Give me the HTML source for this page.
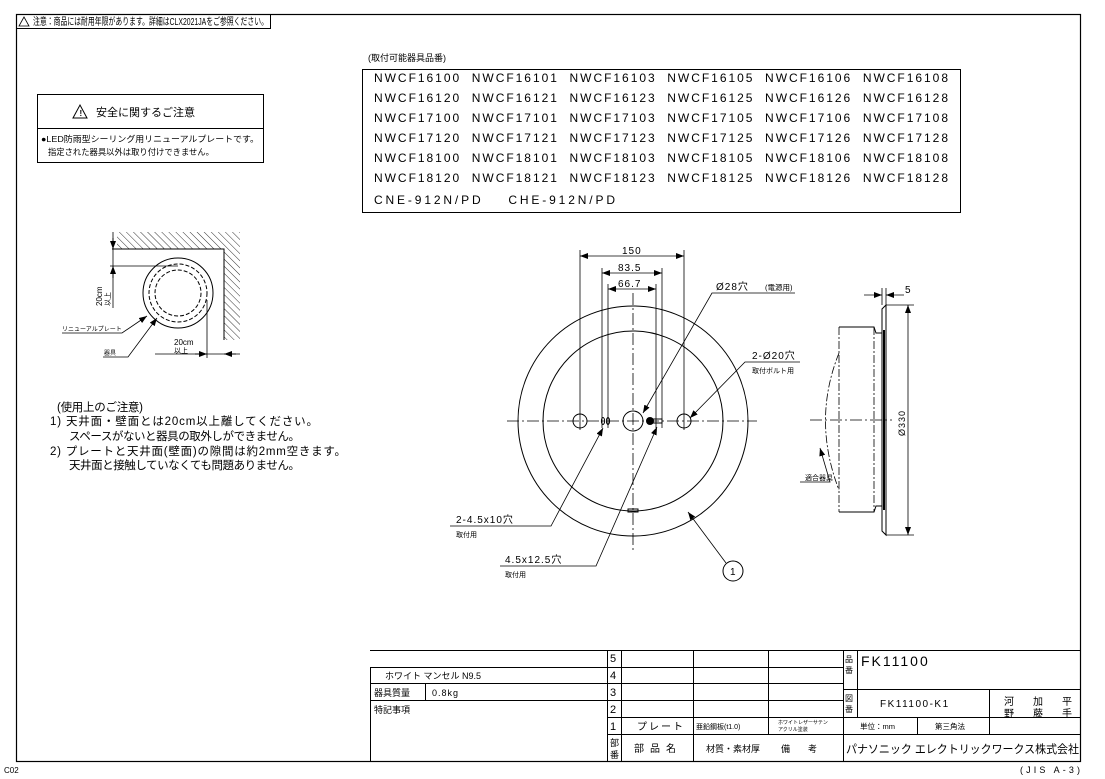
<!DOCTYPE html>
<html><head><meta charset="utf-8"><style>
html,body{margin:0;padding:0;background:#fff;}
svg{display:block;}
text{font-family:"Liberation Sans","Noto Sans CJK JP",sans-serif;fill:#000;}
</style></head><body>
<svg width="1105" height="779" viewBox="0 0 1105 779" xmlns="http://www.w3.org/2000/svg">
<defs>
<pattern id="h" width="5" height="5" patternUnits="userSpaceOnUse" patternTransform="rotate(-45)">
<line x1="0" y1="0" x2="0" y2="5" stroke="#000" stroke-width="0.8"/></pattern>
<marker id="a" markerWidth="8" markerHeight="6" refX="8" refY="3" orient="auto" markerUnits="userSpaceOnUse"><path d="M0,0 L8,3 L0,6z" fill="#000"/></marker>
<marker id="as" markerWidth="8" markerHeight="6" refX="0" refY="3" orient="auto" markerUnits="userSpaceOnUse"><path d="M8,0 L0,3 L8,6z" fill="#000"/></marker>
</defs>
<g stroke="#000" fill="none" stroke-width="1">
<rect x="16.5" y="14.5" width="1064" height="747" stroke-width="1.2"/>
<polyline points="16.5,28.5 270.5,28.5 270.5,14.5"/>
<rect x="37.5" y="94.5" width="226" height="68"/>
<line x1="37" y1="128.5" x2="263" y2="128.5"/>
<path d="M73,118 L80,105 L87,118z"/>
<path d="M19,26 L24,17 L29,26z" stroke-width="0.8"/>
<rect x="362.5" y="69.5" width="598" height="143"/>
</g>
<text x="33" y="25" font-size="10" textLength="235" lengthAdjust="spacingAndGlyphs">注意：商品には耐用年限があります。詳細はCLX2021JAをご参照ください。</text>
<text x="96" y="116" font-size="11">安全に関するご注意</text>
<text x="79.5" y="116" font-size="8" font-weight="bold">!</text>
<text x="41" y="142" font-size="8.5" textLength="218" lengthAdjust="spacingAndGlyphs">●LED防雨型シーリング用リニューアルプレートです。</text>
<text x="48" y="155" font-size="8.5" textLength="166" lengthAdjust="spacingAndGlyphs">指定された器具以外は取り付けできません。</text>
<text x="368" y="61" font-size="9">(取付可能器具品番)</text>
<g font-size="12">
<text x="374" y="82" textLength="574" lengthAdjust="spacing">NWCF16100&#160; NWCF16101&#160; NWCF16103&#160; NWCF16105&#160; NWCF16106&#160; NWCF16108</text>
<text x="374" y="102" textLength="574" lengthAdjust="spacing">NWCF16120&#160; NWCF16121&#160; NWCF16123&#160; NWCF16125&#160; NWCF16126&#160; NWCF16128</text>
<text x="374" y="122" textLength="574" lengthAdjust="spacing">NWCF17100&#160; NWCF17101&#160; NWCF17103&#160; NWCF17105&#160; NWCF17106&#160; NWCF17108</text>
<text x="374" y="142" textLength="574" lengthAdjust="spacing">NWCF17120&#160; NWCF17121&#160; NWCF17123&#160; NWCF17125&#160; NWCF17126&#160; NWCF17128</text>
<text x="374" y="162" textLength="574" lengthAdjust="spacing">NWCF18100&#160; NWCF18101&#160; NWCF18103&#160; NWCF18105&#160; NWCF18106&#160; NWCF18108</text>
<text x="374" y="182" textLength="574" lengthAdjust="spacing">NWCF18120&#160; NWCF18121&#160; NWCF18123&#160; NWCF18125&#160; NWCF18126&#160; NWCF18128</text>
<text x="374" y="204" textLength="241" lengthAdjust="spacing">CNE-912N/PD&#160;&#160;&#160; CHE-912N/PD</text>
</g>

<rect x="117" y="232" width="123" height="17" fill="url(#h)"/>
<rect x="224" y="249" width="16" height="91" fill="url(#h)"/>
<g stroke="#000" fill="none" stroke-width="1">
<polyline points="112,249 224,249 224,340"/>
<circle cx="178" cy="293" r="35"/>
<circle cx="178" cy="293" r="29" stroke-dasharray="4,2"/>
<circle cx="178" cy="293" r="23" stroke-dasharray="4,2"/>
<line x1="113" y1="232" x2="113" y2="308" stroke-width="0.8"/>
<line x1="110" y1="266" x2="178" y2="266" stroke-width="0.8"/>
<line x1="113" y1="238" x2="113" y2="249" marker-end="url(#a)"/>
<line x1="113" y1="278" x2="113" y2="266" marker-end="url(#a)"/>
<line x1="207" y1="300" x2="207" y2="358" stroke-width="0.8"/>
<line x1="155" y1="354" x2="240" y2="354" stroke-width="0.8"/>
<line x1="195" y1="354" x2="207" y2="354" marker-end="url(#a)"/>
<line x1="236" y1="354" x2="224" y2="354" marker-end="url(#a)"/>
<polyline points="62,333 122,333 147,316" marker-end="url(#a)" stroke-width="0.8"/>
<polyline points="103,357 128,357 157,318" marker-end="url(#a)" stroke-width="0.8"/>
</g>
<text transform="translate(102,306) rotate(-90)" font-size="8">20cm</text>
<text transform="translate(110,306) rotate(-90)" font-size="7">以上</text>
<text x="174" y="345" font-size="8">20cm</text>
<text x="174" y="353" font-size="7">以上</text>
<text x="62" y="331" font-size="6">リニューアルプレート</text>
<text x="104" y="355" font-size="6">器具</text>

<g font-size="11.5">
<text x="57" y="411" textLength="86" lengthAdjust="spacing">(使用上のご注意)</text>
<text x="50" y="425" textLength="268" lengthAdjust="spacing">1) 天井面・壁面とは20cm以上離してください。</text>
<text x="69" y="440" textLength="231" lengthAdjust="spacing">スペースがないと器具の取外しができません。</text>
<text x="50" y="455" textLength="296" lengthAdjust="spacing">2) プレートと天井面(壁面)の隙間は約2mm空きます。</text>
<text x="69" y="469" textLength="231" lengthAdjust="spacing">天井面と接触していなくても問題ありません。</text>
</g>

<g stroke="#000" fill="none" stroke-width="1">
<circle cx="633" cy="421" r="115"/>
<circle cx="633" cy="421" r="90"/>
<line x1="507" y1="421" x2="757" y2="421" stroke-dasharray="12,3,2,3" stroke-width="0.8"/>
<line x1="633" y1="293" x2="633" y2="552" stroke-dasharray="12,3,2,3" stroke-width="0.8"/>
<circle cx="580" cy="421" r="7"/>
<circle cx="684" cy="421" r="7"/>
<circle cx="633" cy="421" r="10"/>
<ellipse cx="603" cy="421" rx="1.6" ry="3.5"/>
<ellipse cx="608" cy="421" rx="1.6" ry="3.5"/>
<circle cx="650" cy="421" r="3.5" fill="#000"/>
<rect x="652" y="419" width="10" height="4"/>
<rect x="628" y="509" width="10" height="3"/>
<g stroke-width="0.8">
<line x1="580" y1="250" x2="580" y2="430"/>
<line x1="684" y1="250" x2="684" y2="430"/>
<line x1="602" y1="268" x2="602" y2="428"/>
<line x1="662" y1="268" x2="662" y2="428"/>
<line x1="608" y1="284" x2="608" y2="428"/>
<line x1="656" y1="284" x2="656" y2="428"/>
<line x1="580" y1="256" x2="684" y2="256" marker-start="url(#as)" marker-end="url(#a)"/>
<line x1="602" y1="273" x2="662" y2="273" marker-start="url(#as)" marker-end="url(#a)"/>
<line x1="608" y1="289" x2="656" y2="289" marker-start="url(#as)" marker-end="url(#a)"/>
<polyline points="795,293 712,293 643,413" marker-end="url(#a)"/>
<polyline points="800,362 745,362 690,418" marker-end="url(#a)"/>
<polyline points="450,526 551,526 603,428" marker-end="url(#a)"/>
<polyline points="500,566 596,566 657,427" marker-end="url(#a)"/>
<line x1="726" y1="563" x2="688" y2="512" marker-end="url(#a)"/>
</g>
<circle cx="733" cy="571" r="10"/>
</g>
<g font-size="10" letter-spacing="1">
<text x="622" y="254">150</text>
<text x="618" y="271">83.5</text>
<text x="618" y="287">66.7</text>
<text x="716" y="290">Ø28穴</text>
<text x="752" y="359">2-Ø20穴</text>
<text x="456" y="523">2-4.5x10穴</text>
<text x="505" y="563">4.5x12.5穴</text>
</g>
<text x="765" y="290" font-size="7.5">(電源用)</text>
<text x="752" y="373" font-size="7">取付ボルト用</text>
<text x="456" y="537" font-size="7">取付用</text>
<text x="505" y="577" font-size="7">取付用</text>
<text x="730" y="575" font-size="10">1</text>

<g stroke="#000" fill="none" stroke-width="1">
<path d="M886,305 L882,309 L882,531 L886,535 Z"/>
<line x1="884" y1="330" x2="884" y2="510" stroke-width="2"/>
<polyline points="839,327 874,327 876,333 882,333"/>
<polyline points="839,512 874,512 876,506 882,506"/>
<line x1="839" y1="327" x2="839" y2="512" stroke-dasharray="8,2,2,2" stroke-width="0.8"/>
<line x1="874" y1="327" x2="874" y2="512" stroke-dasharray="8,2,2,2" stroke-width="0.8"/>
<path d="M839,353 Q812,420 839,490" stroke-dasharray="8,2,2,2" stroke-width="0.8"/>
<line x1="810" y1="420" x2="892" y2="420" stroke-dasharray="12,3,2,3" stroke-width="0.8"/>
<g stroke-width="0.8">
<line x1="882" y1="288" x2="882" y2="305"/>
<line x1="886" y1="288" x2="886" y2="305"/>
<line x1="864" y1="295" x2="882" y2="295" marker-end="url(#a)"/>
<line x1="904" y1="295" x2="886" y2="295" marker-end="url(#a)"/>
<line x1="886" y1="305" x2="914" y2="305"/>
<line x1="886" y1="535" x2="914" y2="535"/>
<line x1="908" y1="305" x2="908" y2="535" marker-start="url(#as)" marker-end="url(#a)"/>
<polyline points="800,482 830,482 820,448" marker-end="url(#a)"/>
</g>
</g>
<text x="905" y="293" font-size="10">5</text>
<text transform="translate(905,436) rotate(-90)" font-size="9" letter-spacing="1">Ø330</text>
<text x="805" y="480" font-size="7">適合器具</text>

<g stroke="#000" fill="none" stroke-width="1">
<line x1="607.5" y1="650" x2="607.5" y2="762"/>
<line x1="370" y1="650.5" x2="1081" y2="650.5"/>
<line x1="370" y1="667.5" x2="843" y2="667.5"/>
<line x1="370" y1="683.5" x2="843" y2="683.5"/>
<line x1="370" y1="700.5" x2="843" y2="700.5"/>
<line x1="607" y1="717.5" x2="1081" y2="717.5"/>
<line x1="607" y1="734.5" x2="1081" y2="734.5"/>
<line x1="843" y1="689.5" x2="1081" y2="689.5"/>
<line x1="370.5" y1="667" x2="370.5" y2="762"/>
<line x1="425.5" y1="683" x2="425.5" y2="700"/>
<line x1="621.5" y1="650" x2="621.5" y2="762"/>
<line x1="693.5" y1="650" x2="693.5" y2="762"/>
<line x1="768.5" y1="650" x2="768.5" y2="734"/>
<line x1="843.5" y1="650" x2="843.5" y2="762"/>
<line x1="857.5" y1="650" x2="857.5" y2="717"/>
<line x1="989.5" y1="689" x2="989.5" y2="734"/>
<line x1="917.5" y1="717" x2="917.5" y2="734"/>
</g>
<g font-size="11">
<text x="610" y="662">5</text><text x="610" y="679">4</text><text x="610" y="696">3</text><text x="610" y="713">2</text><text x="610" y="730">1</text>
</g>
<text x="610" y="746" font-size="9">部</text><text x="610" y="758" font-size="9">番</text>
<text x="845" y="662" font-size="8">品</text><text x="845" y="673" font-size="8">番</text>
<text x="845" y="701" font-size="8">図</text><text x="845" y="712" font-size="8">番</text>
<text x="385" y="679" font-size="9">ホワイト マンセル N9.5</text>
<text x="374" y="696" font-size="9">器具質量</text>
<text x="432" y="696" font-size="9" letter-spacing="1">0.8kg</text>
<text x="374" y="713" font-size="9">特記事項</text>
<text x="637" y="730" font-size="10" letter-spacing="2">プレート</text>
<text x="696" y="729" font-size="7">亜鉛鋼板(t1.0)</text>
<text x="778" y="724" font-size="5">ホワイトレザーサテン</text>
<text x="778" y="731" font-size="5">アクリル塗装</text>
<text x="634" y="752" font-size="10" letter-spacing="6">部品名</text>
<text x="706" y="752" font-size="9">材質・素材厚</text>
<text x="781" y="752" font-size="9" letter-spacing="18">備考</text>
<text x="861" y="666" font-size="14" letter-spacing="2">FK11100</text>
<text x="880" y="707" font-size="10" letter-spacing="1.5">FK11100-K1</text>
<text x="860" y="729" font-size="7.5">単位：mm</text>
<text x="935" y="729" font-size="7.5">第三角法</text>
<g font-size="10"><text x="1004" y="705">河</text><text x="1004" y="717">野</text><text x="1033" y="705">加</text><text x="1033" y="717">藤</text><text x="1062" y="705">平</text><text x="1062" y="717">手</text></g>
<text x="846" y="753" font-size="11.5" textLength="233" lengthAdjust="spacingAndGlyphs" fill="#333">パナソニック エレクトリックワークス株式会社</text>
<text x="4" y="773" font-size="8">C02</text>
<text x="1020" y="773" font-size="9" textLength="60" lengthAdjust="spacing">(JIS A-3)</text>
</svg>
</body></html>
